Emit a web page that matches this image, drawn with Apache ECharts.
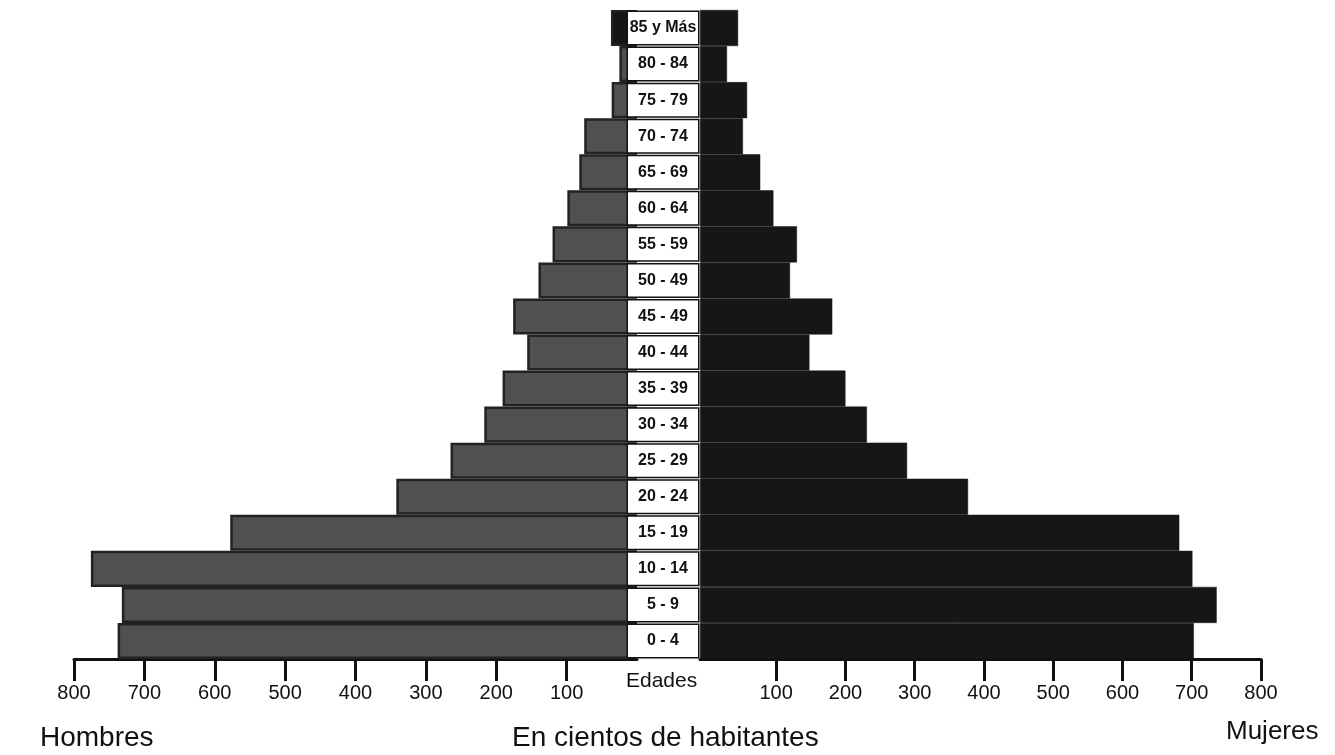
<!DOCTYPE html>
<html>
<head>
<meta charset="utf-8">
<script src="https://cdn.jsdelivr.net/npm/echarts@6/dist/echarts.min.js"></script>
<style>
html,body{margin:0;padding:0;background:#fff;}
#chart{width:1335px;height:755px;}
</style>
</head>
<body>
<div id="chart"></div>
<script>
// Age groups, top to bottom as printed in the reference
const ageGroups = ['85 y Más','80 - 84','75 - 79','70 - 74','65 - 69','60 - 64','55 - 59','50 - 49','45 - 49','40 - 44','35 - 39','30 - 34','25 - 29','20 - 24','15 - 19','10 - 14','5 - 9','0 - 4'];
// Hundreds of inhabitants
const hombres = [37, 25, 36, 75, 82, 99, 120, 140, 176, 156, 191, 217, 265, 342, 578, 776, 732, 738];
const mujeres = [45, 29, 58, 52, 77, 96, 130, 120, 181, 148, 200, 231, 289, 377, 682, 701, 736, 703];
const tickValues = [100, 200, 300, 400, 500, 600, 700, 800];

const FONT = 'Liberation Sans, Arial, sans-serif';
const INK = '#111';

function valueAxis(gridIndex, inverse, minV) {
  return {
    type: 'value', gridIndex: gridIndex, inverse: inverse,
    min: minV, max: 800, startValue: minV,
    axisLine: { show: true, onZero: false, lineStyle: { color: INK, width: 3 } },
    axisTick: { show: true, customValues: tickValues, length: 22, inside: false, lineStyle: { color: INK, width: 3 } },
    axisLabel: { customValues: tickValues, margin: 24, fontSize: 20, color: INK, fontFamily: FONT },
    splitLine: { show: false }
  };
}

const chart = echarts.init(document.getElementById('chart'), null, { renderer: 'canvas' });
chart.setOption({
  animation: false,
  backgroundColor: '#fff',
  title: [
    { text: 'Edades', left: 626, top: 671, padding: 0, textStyle: { fontSize: 21, fontWeight: 'normal', color: INK, fontFamily: FONT } },
    { text: 'Hombres', left: 40, top: 724, padding: 0, textStyle: { fontSize: 28, fontWeight: 'normal', color: INK, fontFamily: FONT } },
    { text: 'En cientos de habitantes', left: 512, top: 724, padding: 0, textStyle: { fontSize: 28, fontWeight: 'normal', color: INK, fontFamily: FONT } },
    { text: 'Mujeres', left: 1226, top: 719, padding: 0, textStyle: { fontSize: 26, fontWeight: 'normal', color: INK, fontFamily: FONT } }
  ],
  grid: [
    { left: 74, top: 10, width: 563, height: 649, containLabel: false },
    { left: 700, top: 10, width: 561, height: 649, containLabel: false }
  ],
  xAxis: [ valueAxis(0, true, 0), valueAxis(1, false, -10) ],
  yAxis: [
    { type: 'category', gridIndex: 0, data: ageGroups, inverse: true, show: false },
    {
      type: 'category', gridIndex: 1, data: ageGroups, inverse: true, position: 'left', z: 10,
      axisLine: { show: false }, axisTick: { show: false },
      axisLabel: {
        interval: 0, margin: 37, align: 'center', verticalAlign: 'middle',
        width: 70, height: 32, lineHeight: 32, padding: 0,
        backgroundColor: '#fff', borderColor: INK, borderWidth: 1.5,
        fontSize: 16, fontWeight: 'bold', color: INK, fontFamily: FONT
      }
    }
  ],
  series: [
    {
      name: 'Hombres', type: 'bar', xAxisIndex: 0, yAxisIndex: 0, data: hombres,
      barCategoryGap: '0%',
      itemStyle: {
        color: function (p) { return p.dataIndex === 0 ? '#161616' : '#505050'; },
        borderColor: '#222', borderWidth: 2.5
      }
    },
    {
      name: 'Mujeres', type: 'bar', xAxisIndex: 1, yAxisIndex: 1, data: mujeres,
      barCategoryGap: '0%',
      itemStyle: { color: '#161616', borderColor: '#161616', borderWidth: 0.5 }
    }
  ]
});
</script>
</body>
</html>
